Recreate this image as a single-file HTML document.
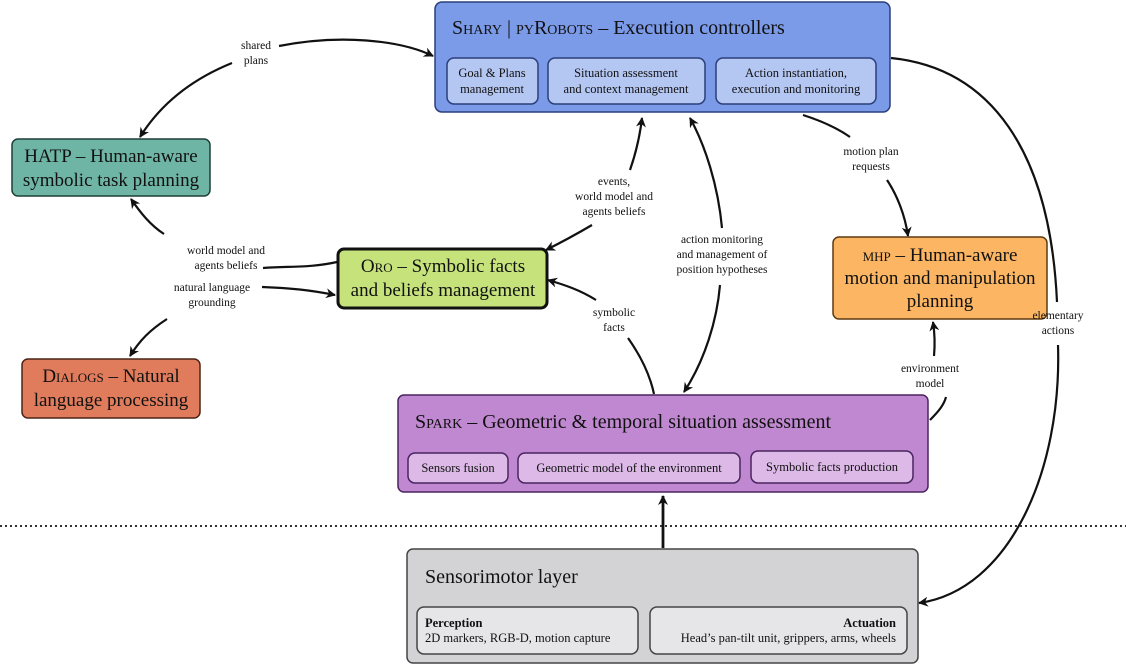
<!DOCTYPE html>
<html><head><meta charset="utf-8"><style>
html,body{margin:0;padding:0;background:#fff;}
svg{display:block;font-family:"Liberation Serif",serif;}
.sc{font-variant:small-caps;}
</style></head><body>
<svg width="1126" height="665" viewBox="0 0 1126 665" xmlns="http://www.w3.org/2000/svg">
<defs>
<marker id="a" viewBox="0 0 10 10" refX="9" refY="5" markerWidth="12" markerHeight="10" orient="auto-start-reverse" markerUnits="userSpaceOnUse"><path d="M0,0 L10,5 L0,10 L3,5 z" fill="#111"/></marker>
</defs>
<g fill="none" stroke="#111" stroke-width="2.2">
<path d="M279,46 C340,34 400,40 433,56" marker-end="url(#a)"/>
<path d="M232,63 C190,80 160,105 140,137" marker-end="url(#a)"/>
<path d="M337,262 C310,268 290,266 263,268"/>
<path d="M164,234 C150,225 140,212 131,199" marker-end="url(#a)"/>
<path d="M262,287 C290,288 310,290 335,295" marker-end="url(#a)"/>
<path d="M167,319 C150,330 140,340 130,356" marker-end="url(#a)"/>
<path d="M630,170 C637,150 640,135 642,118" marker-end="url(#a)"/>
<path d="M592,225 C575,235 560,243 546,250" marker-end="url(#a)"/>
<path d="M596,300 C580,290 565,285 548,280" marker-end="url(#a)"/>
<path d="M628,338 C640,355 650,375 654,394"/>
<path d="M722,228 C718,185 705,145 690,118" marker-end="url(#a)"/>
<path d="M720,285 C717,320 705,360 684,392" marker-end="url(#a)"/>
<path d="M803,115 C825,122 840,130 850,137"/>
<path d="M887,180 C897,195 905,215 908,236" marker-end="url(#a)"/>
<path d="M930,420 C938,412 944,405 946,397"/>
<path d="M934,356 C935,345 935,335 933,322" marker-end="url(#a)"/>
<path d="M891,58 C990,68 1050,150 1057,302"/>
<path d="M1058,345 C1062,470 1010,590 919,603" marker-end="url(#a)"/>
<path d="M663,548 L663,496" stroke-width="2.8" marker-end="url(#a)"/>
</g>
<line x1="0" y1="526" x2="1126" y2="526" stroke="#333" stroke-width="2" stroke-dasharray="2,3"/>

<rect x="435" y="2" width="455" height="110" rx="7" fill="#7b9ae8" stroke="#2b3f7a" stroke-width="1.5"/>
<text x="452" y="34" font-size="20" fill="#111"><tspan class="sc">Shary</tspan> | <tspan class="sc">pyRobots</tspan> – Execution controllers</text>
<g fill="#b4c6f2" stroke="#2b3f7a" stroke-width="1.5">
<rect x="447" y="58" width="91" height="46" rx="7"/>
<rect x="548" y="58" width="157" height="46" rx="7"/>
<rect x="716" y="58" width="160" height="46" rx="7"/>
</g>
<g font-size="12.5" fill="#111" text-anchor="middle">
<text x="492" y="77">Goal &amp; Plans</text><text x="492" y="93">management</text>
<text x="626" y="77">Situation assessment</text><text x="626" y="93">and context management</text>
<text x="796" y="77">Action instantiation,</text><text x="796" y="93">execution and monitoring</text>
</g>

<rect x="12" y="139" width="198" height="57" rx="6" fill="#6fb5a6" stroke="#1f3f38" stroke-width="1.5"/>
<text x="111" y="162" font-size="19" text-anchor="middle" fill="#111">HATP – Human-aware</text>
<text x="111" y="186" font-size="19" text-anchor="middle" fill="#111">symbolic task planning</text>

<rect x="338" y="249" width="209" height="59" rx="6" fill="#c6e27b" stroke="#111" stroke-width="3"/>
<text x="443" y="272" font-size="19" text-anchor="middle" fill="#111"><tspan class="sc">Oro</tspan> – Symbolic facts</text>
<text x="443" y="296" font-size="19" text-anchor="middle" fill="#111">and beliefs management</text>

<rect x="22" y="359" width="178" height="59" rx="6" fill="#e07c5c" stroke="#4a2416" stroke-width="1.5"/>
<text x="111" y="382" font-size="19" text-anchor="middle" fill="#111"><tspan class="sc">Dialogs</tspan> – Natural</text>
<text x="111" y="406" font-size="19" text-anchor="middle" fill="#111">language processing</text>

<rect x="833" y="237" width="214" height="82" rx="6" fill="#fbb563" stroke="#5c3b10" stroke-width="1.5"/>
<text x="940" y="261" font-size="19" text-anchor="middle" fill="#111"><tspan font-size="13">MHP</tspan> – Human-aware</text>
<text x="940" y="284" font-size="19" text-anchor="middle" fill="#111">motion and manipulation</text>
<text x="940" y="307" font-size="19" text-anchor="middle" fill="#111">planning</text>

<rect x="398" y="395" width="530" height="97" rx="6" fill="#c088d0" stroke="#4a2460" stroke-width="1.5"/>
<text x="415" y="428" font-size="20" fill="#111"><tspan class="sc">Spark</tspan> – Geometric &amp; temporal situation assessment</text>
<g fill="#dcb9e6" stroke="#4a2460" stroke-width="1.5">
<rect x="408" y="453" width="100" height="30" rx="7"/>
<rect x="518" y="453" width="222" height="30" rx="7"/>
<rect x="751" y="451" width="162" height="32" rx="7"/>
</g>
<g font-size="12.5" fill="#111" text-anchor="middle">
<text x="458" y="472">Sensors fusion</text>
<text x="629" y="472">Geometric model of the environment</text>
<text x="832" y="471">Symbolic facts production</text>
</g>

<rect x="407" y="549" width="511" height="114" rx="6" fill="#d3d3d5" stroke="#444" stroke-width="1.5"/>
<text x="425" y="583" font-size="20" fill="#111">Sensorimotor layer</text>
<g fill="#e6e6e8" stroke="#444" stroke-width="1.5">
<rect x="417" y="607" width="221" height="47" rx="7"/>
<rect x="650" y="607" width="257" height="47" rx="7"/>
</g>
<text x="425" y="627" font-size="12.5" font-weight="bold" fill="#111">Perception</text>
<text x="425" y="642" font-size="12.5" fill="#111">2D markers, RGB-D, motion capture</text>
<text x="896" y="627" font-size="12.5" font-weight="bold" fill="#111" text-anchor="end">Actuation</text>
<text x="896" y="642" font-size="12.5" fill="#111" text-anchor="end">Head’s pan-tilt unit, grippers, arms, wheels</text>

<g font-size="11.5" fill="#111" text-anchor="middle">
<text x="256" y="49">shared</text><text x="256" y="64">plans</text>
<text x="226" y="254">world model and</text><text x="226" y="269">agents beliefs</text>
<text x="212" y="291">natural language</text><text x="212" y="306">grounding</text>
<text x="614" y="185">events,</text><text x="614" y="200">world model and</text><text x="614" y="215">agents beliefs</text>
<text x="614" y="316">symbolic</text><text x="614" y="331">facts</text>
<text x="722" y="243">action monitoring</text><text x="722" y="258">and management of</text><text x="722" y="273">position hypotheses</text>
<text x="871" y="155">motion plan</text><text x="871" y="170">requests</text>
<text x="930" y="372">environment</text><text x="930" y="387">model</text>
<text x="1058" y="319">elementary</text><text x="1058" y="334">actions</text>
</g>
</svg>
</body></html>
